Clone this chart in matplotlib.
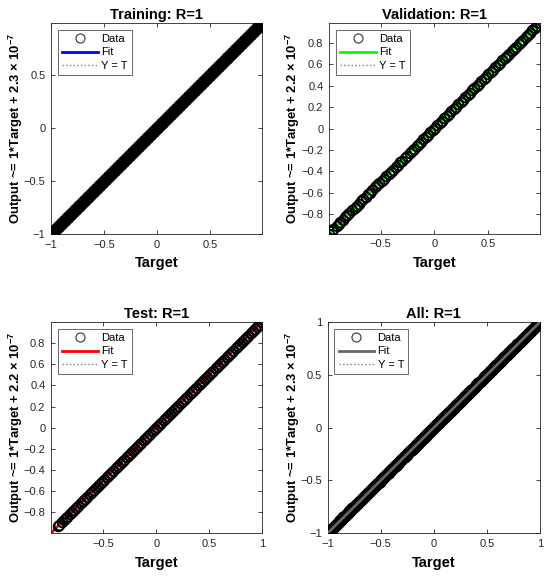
import numpy as np
import matplotlib
matplotlib.use("Agg")
import matplotlib.pyplot as plt

plt.rcParams["font.family"] = ["Liberation Sans", "DejaVu Sans"]
plt.rcParams["mathtext.default"] = "regular"

# Targets read along the diagonal (outputs sit on Y = T at plot precision)
train_target = [
    -1.00, -0.99, -0.975, -0.962, -0.95, -0.934, -0.921, -0.905, -0.893, -0.878,
    -0.864, -0.85, -0.836, -0.82, -0.807, -0.793, -0.778, -0.765, -0.75, -0.736,
    -0.722, -0.707, -0.693, -0.68, -0.664, -0.651, -0.637, -0.622, -0.608, -0.594,
    -0.58, -0.565, -0.551, -0.537, -0.523, -0.508, -0.494, -0.48, -0.466, -0.452,
    -0.437, -0.423, -0.409, -0.395, -0.38, -0.366, -0.352, -0.338, -0.323, -0.309,
    -0.295, -0.281, -0.266, -0.252, -0.238, -0.224, -0.209, -0.195, -0.181, -0.167,
    -0.152, -0.138, -0.124, -0.11, -0.095, -0.081, -0.067, -0.053, -0.038, -0.024,
    -0.01, 0.004, 0.019, 0.033, 0.047, 0.061, 0.076, 0.09, 0.104, 0.118,
    0.133, 0.147, 0.161, 0.175, 0.19, 0.204, 0.218, 0.232, 0.247, 0.261,
    0.275, 0.289, 0.304, 0.318, 0.332, 0.346, 0.361, 0.375, 0.389, 0.403,
    0.418, 0.432, 0.446, 0.46, 0.475, 0.489, 0.503, 0.517, 0.532, 0.546,
    0.56, 0.574, 0.589, 0.603, 0.617, 0.631, 0.646, 0.66, 0.674, 0.688,
    0.703, 0.717, 0.731, 0.745, 0.76, 0.774, 0.788, 0.802, 0.817, 0.831,
    0.845, 0.859, 0.874, 0.888, 0.902, 0.916, 0.931, 0.945, 0.959, 0.973, 0.99,
]
train_output = list(train_target)

val_target = [
    -0.98, -0.955, -0.94, -0.91, -0.89, -0.875, -0.85, -0.83, -0.81, -0.79,
    -0.765, -0.74, -0.72, -0.705, -0.68, -0.66, -0.635, -0.615, -0.6, -0.575,
    -0.55, -0.53, -0.51, -0.49, -0.47, -0.445, -0.42, -0.405, -0.385, -0.36,
    -0.34, -0.315, -0.3, -0.275, -0.255, -0.23, -0.21, -0.19, -0.165, -0.145,
    -0.125, -0.1, -0.08, -0.06, -0.035, -0.015, 0.005, 0.03, 0.05, 0.07,
    0.095, 0.115, 0.135, 0.16, 0.18, 0.2, 0.225, 0.245, 0.265, 0.29,
    0.31, 0.33, 0.355, 0.375, 0.395, 0.42, 0.44, 0.46, 0.485, 0.505,
    0.525, 0.55, 0.57, 0.59, 0.615, 0.635, 0.655, 0.68, 0.7, 0.72,
    0.745, 0.765, 0.785, 0.81, 0.83, 0.85, 0.875, 0.895, 0.915, 0.94, 0.96, 0.985,
]
val_output = list(val_target)

test_target = [
    -0.93, -0.915, -0.895, -0.875, -0.855, -0.84, -0.815, -0.795, -0.775, -0.755,
    -0.735, -0.715, -0.695, -0.675, -0.65, -0.63, -0.61, -0.59, -0.57, -0.55,
    -0.53, -0.51, -0.49, -0.465, -0.445, -0.425, -0.405, -0.385, -0.365, -0.345,
    -0.325, -0.305, -0.28, -0.26, -0.24, -0.22, -0.2, -0.18, -0.16, -0.14,
    -0.12, -0.095, -0.075, -0.055, -0.035, -0.015, 0.005, 0.025, 0.045, 0.07,
    0.09, 0.11, 0.13, 0.15, 0.17, 0.19, 0.21, 0.235, 0.255, 0.275,
    0.295, 0.315, 0.335, 0.355, 0.375, 0.4, 0.42, 0.44, 0.46, 0.48,
    0.5, 0.52, 0.54, 0.565, 0.585, 0.605, 0.625, 0.645, 0.665, 0.685,
    0.705, 0.73, 0.75, 0.77, 0.79, 0.81, 0.83, 0.85, 0.87, 0.895,
    0.915, 0.935, 0.955, 0.975, 1.0,
]
test_output = list(test_target)

all_target = train_target + val_target + test_target
all_output = train_output + val_output + test_output

titles = ["Training: R=1", "Validation: R=1", "Test: R=1", "All: R=1"]
fit_slope = [1, 1, 1, 1]
fit_offset_txt = ["2.3", "2.2", "2.2", "2.3"]
fit_colors = ["#0000ff", "#00ff00", "#ff0000", "#666666"]
limits = [(-1.0, 0.99), (-0.98, 0.985), (-0.995, 1.0), (-1.0, 1.0)]
yticks = [
    [-1, -0.5, 0, 0.5],
    [-0.8, -0.6, -0.4, -0.2, 0, 0.2, 0.4, 0.6, 0.8],
    [-0.8, -0.6, -0.4, -0.2, 0, 0.2, 0.4, 0.6, 0.8],
    [-1, -0.5, 0, 0.5, 1],
]
xticks = [
    [-1, -0.5, 0, 0.5],
    [-0.5, 0, 0.5],
    [-0.5, 0, 0.5, 1],
    [-1, -0.5, 0, 0.5, 1],
]
series = [
    (train_target, train_output),
    (val_target, val_output),
    (test_target, test_output),
    (all_target, all_output),
]

W, H = 550, 577
# axes boxes in pixels: left, top, right, bottom
boxes = [
    (51, 23, 262, 234),
    (329, 23, 540, 233.5),
    (51, 322, 262, 533),
    (327.5, 322, 540, 533.3),
]
marker_ew = [2.0, 1.3, 1.3, 1.6]
ylabel_right_px = [25, 302, 25, 302]


def fmt(v):
    if v == 0:
        return "0"
    s = ("%g" % v)
    return s.replace("-", "\u2212")


fig = plt.figure(figsize=(W / 100, H / 100), dpi=100)
gray = "#262626"

for i in range(4):
    l, t, r, b = boxes[i]
    ax = fig.add_axes([l / W, 1 - b / H, (r - l) / W, (b - t) / H])
    lo, hi = limits[i]
    tx, ty = series[i]

    fit_x = np.array([lo, hi])
    fit_y = fit_slope[i] * fit_x + float(fit_offset_txt[i]) * 1e-7

    zfit = 4 if i == 3 else 2
    ax.plot(tx, ty, "o", mfc="none", mec="k", ms=7, mew=marker_ew[i], zorder=3)
    ax.plot(fit_x, fit_y, "-", color=fit_colors[i], lw=2, zorder=zfit)
    ax.plot(fit_x, fit_x, ":", color="#808080", lw=1, zorder=1)

    # legend proxies
    ax.plot([], [], "o", mfc="none", mec="#333333", ms=6.5, mew=0.8, label="Data")
    ax.plot([], [], "-", color=fit_colors[i], lw=2, label="Fit")
    ax.plot([], [], ":", color="#808080", lw=1, label="Y = T")

    ax.set_xlim(lo, hi)
    ax.set_ylim(lo, hi)
    ax.set_xticks(xticks[i])
    ax.set_xticklabels([fmt(v) for v in xticks[i]])
    ax.set_yticks(yticks[i])
    ax.set_yticklabels([fmt(v) for v in yticks[i]])
    ax.tick_params(direction="in", length=3, width=0.6, labelsize=8,
                   colors=gray, labelcolor=gray, top=True, right=True, pad=4)
    for sp in ax.spines.values():
        sp.set_color(gray)
        sp.set_linewidth(0.6)

    ax.set_title(titles[i], fontsize=10.5, fontweight="bold", pad=3)
    ax.set_xlabel("Target", fontsize=10.5, fontweight="bold", labelpad=5)
    ax.set_ylabel("Output ~= 1*Target + " + fit_offset_txt[i] + r" × 10$^{-7}$",
                  fontsize=9.4, fontweight="bold")
    ax.yaxis.set_label_coords((ylabel_right_px[i] - l) / (r - l), 0.5)

    leg = ax.legend(loc="upper left", fontsize=8, frameon=True, fancybox=False,
                    handlelength=3.2, handletextpad=0.3, labelspacing=0.3,
                    borderpad=0.4, borderaxespad=0.6)
    leg.get_frame().set_edgecolor(gray)
    leg.get_frame().set_linewidth(0.6)
    leg.set_zorder(10)

fig.savefig("out.png", dpi=100)
